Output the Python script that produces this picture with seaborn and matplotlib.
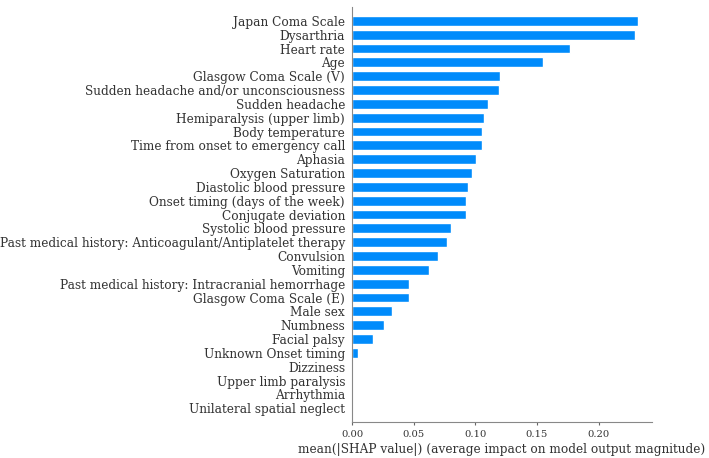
import matplotlib
matplotlib.use("Agg")
import matplotlib.pyplot as plt
import seaborn as sns
import pandas as pd

features = [
    "Japan Coma Scale",
    "Dysarthria",
    "Heart rate",
    "Age",
    "Glasgow Coma Scale (V)",
    "Sudden headache and/or unconsciousness",
    "Sudden headache",
    "Hemiparalysis (upper limb)",
    "Body temperature",
    "Time from onset to emergency call",
    "Aphasia",
    "Oxygen Saturation",
    "Diastolic blood pressure",
    "Onset timing (days of the week)",
    "Conjugate deviation",
    "Systolic blood pressure",
    "Past medical history: Anticoagulant/Antiplatelet therapy",
    "Convulsion",
    "Vomiting",
    "Past medical history: Intracranial hemorrhage",
    "Glasgow Coma Scale (E)",
    "Male sex",
    "Numbness",
    "Facial palsy",
    "Unknown Onset timing",
    "Dizziness",
    "Upper limb paralysis",
    "Arrhythmia",
    "Unilateral spatial neglect",
]
mean_abs_shap = [
    0.2317, 0.2295, 0.1767, 0.1547, 0.1198, 0.1190, 0.1106, 0.1070,
    0.1057, 0.1055, 0.1008, 0.0973, 0.0943, 0.0927, 0.0921, 0.0799,
    0.0770, 0.0699, 0.0623, 0.0466, 0.0466, 0.0322, 0.0263, 0.0173,
    0.0049, 0.0, 0.0, 0.0, 0.0,
]
x_label = "mean(|SHAP value|) (average impact on model output magnitude)"

df = pd.DataFrame({"feature": features, "value": mean_abs_shap})

sns.set_style("white")
plt.rcParams["font.family"] = ["DejaVu Serif"]

fig = plt.figure(figsize=(7.09, 4.58), dpi=100)
ax = fig.add_axes([0.4965, 0.0786, 0.4231, 0.9061])

sns.barplot(data=df, x="value", y="feature", orient="h", color="#008bfb",
            saturation=1, width=0.7, ax=ax)

n = len(features)
ax.set_ylim(n, -1)
ax.set_xlim(0, max(mean_abs_shap) * 1.05)
ax.set_xticks([0.0, 0.05, 0.10, 0.15, 0.20])
ax.set_xticklabels(["0.00", "0.05", "0.10", "0.15", "0.20"])

ax.set_ylabel("")
ax.set_xlabel(x_label, fontsize=8.7, color="#333333", labelpad=3)
ax.tick_params(axis="y", length=0, labelsize=8.7, labelcolor="#333333", pad=5)
ax.tick_params(axis="x", length=2.5, labelsize=7.2, labelcolor="#333333",
               color="#666666", bottom=True, pad=3)

for s in ["top", "right"]:
    ax.spines[s].set_visible(False)
for s in ["left", "bottom"]:
    ax.spines[s].set_visible(True)
    ax.spines[s].set_color("#888888")
    ax.spines[s].set_linewidth(0.8)

fig.savefig("out.png", dpi=100)
